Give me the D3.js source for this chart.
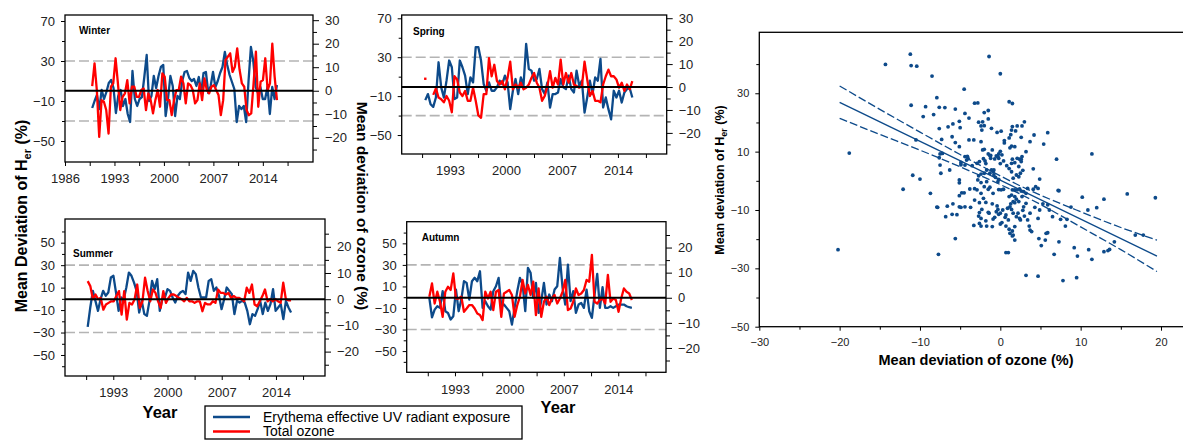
<!DOCTYPE html>
<html>
<head>
<meta charset="utf-8">
<title>Erythemal UV and total ozone deviations</title>
<style>
  body { margin: 0; background: #fff; }
  svg { display: block; font-family: Arial, "Liberation Sans", sans-serif; }
  .tick line { stroke: #000; }
  .tick text { fill: #222; }
</style>
</head>
<body>
<div id="chart"></div>
<script src="https://d3js.org/d3.v7.min.js"></script>
<script>

// seasonal records: first and last year of each monthly series
var winterSpan = [1989.85, 2016.0],
    springSpan = [1989.9, 2015.8],
    summerSpan = [1989.7, 2015.95],
    autumnSpan = [1989.7, 2015.75];

// mean deviation of H_er (%), left axis
var winterUV = [-17,-10,-4,-18,1,-8,-1,8,11,3,
  -22,-5,1,-15,-8,-23,-31,20,-8,-15,
  -8,-6,14,36,-10,-5,15,3,15,24,
  26,-25,-8,15,5,-25,-5,-8,10,19,
  20,13,10,12,5,14,-2,18,19,-2,
  5,19,4,10,18,24,39,26,16,9,
  2,-31,-15,-18,-15,-31,10,44,30,4,
  -2,4,-8,-8,4,-23,4,-8,6];
// mean deviation of total ozone (%), right axis
var winterO3 = [2,11.6,0,-19.6,-4,-4.7,-8.2,-18.2,1.7,3.1,
  13.8,3.1,-8.2,-2.6,-1.1,4.5,-5.4,1.7,1.7,-2.6,
  -2.6,0.3,1,-8.2,-1.1,-4,-9.6,-4,0.3,-6.8,
  7.4,6,-4,-4,-10.4,-4,0.3,0.3,6,3.1,
  -5.4,3.1,2.4,0.3,-5.4,-4,3.1,-4,5.2,0.3,
  -1.1,1.7,2.4,0.3,-1.8,-10.4,-4,13,14.5,15.9,
  8,10.2,18,9,3.1,1.7,-8.2,-10.4,-9.6,3.1,
  16.6,-6.8,3.8,4.5,13.8,0.3,3.1,20,6,-4];

var springUV = [-14.1,-7.9,-18.3,-21.0,-11.4,24.8,-1.0,-11.4,5.9,26.6,
  19.7,-13.1,-11.4,26.6,19.7,11.0,-7.9,9.3,4.1,40.3,
  40.3,26.6,2.4,-4.5,4.1,-4.5,-4.5,-1.0,5.9,2.4,
  11.0,4.1,-23.4,-4.5,7.6,-7.9,9.3,0.7,43.8,17.9,
  16.2,5.9,7.6,17.9,-2.8,-7.9,4.1,-21.7,-7.9,-7.9,
  -6.2,7.6,-1.0,-2.8,11.0,-2.8,-6.2,16.2,0.7,5.9,
  -26.9,-11.4,5.9,-7.9,9.3,5.9,28.3,-21.7,-11.4,-23.4,
  -33.8,-4.5,-11.4,-4.5,-16.6,-6.2,-2.8,-1.7,-11.4];
var springO3 = [3.6,null,null,-3.4,-0.6,-4.6,-5.3,-6.7,-3.9,-6.0,
  -11.0,4.7,3.3,-2.4,-3.9,-1.7,-6.0,-6.0,-0.3,-6.0,
  -12.4,-13.4,-3.1,-3.1,12.6,4.7,9.7,2.6,1.1,2.6,
  -1.0,4.0,11.1,-1.0,1.1,-0.3,1.9,-1.0,-0.3,1.1,
  4.0,6.1,1.9,-0.3,-6.0,-3.9,0.4,6.9,-0.3,4.0,
  1.1,11.9,1.1,6.1,1.9,6.1,1.1,0.4,-0.3,0.4,
  11.1,3.3,-3.9,-1.7,-6.0,-6.0,-6.7,1.1,4.7,7.6,
  4.7,4.7,3.3,-0.3,1.9,-1.7,1.1,-1.0,2.6];

var summerUV = [-24.9,-7.7,7.1,-1.8,-10.7,-0.3,7.1,2.7,5.6,19.0,
  20.5,5.6,-10.7,1.2,-0.3,10.1,23.4,20.5,14.5,7.1,
  -12.2,-1.8,-13.6,-15.1,-1.8,16.0,8.6,17.5,-10.7,-0.3,
  1.2,8.6,7.1,1.2,-3.3,2.7,5.6,7.1,4.2,23.4,
  16.0,24.9,22.0,10.1,1.2,1.2,1.2,16.0,17.5,7.1,
  10.1,2.7,-9.2,-0.3,10.1,7.1,4.2,-13.6,-1.8,-3.3,
  -1.8,-3.3,-10.7,-22.6,-13.6,-15.1,-9.2,-1.8,-13.6,-3.3,
  -10.7,-4.7,8.6,-10.7,-7.7,-4.7,-18.1,-1.8,-7.7,-12.2];
var summerO3 = [6.9,5,0,1.8,0,0.5,-4,-2,-1.4,-0.8,
  -0.8,1.2,3.1,-5.9,3.1,-7.8,-1.4,-2,0,5.6,
  -3.3,-0.8,8.2,3.1,-0.8,3.7,2.4,-0.8,-3.3,3.1,
  -1.4,0.5,1.8,1.8,1.2,0.5,0,-0.8,0.5,-0.8,
  -0.8,-1.4,-0.8,-0.8,-4.6,-1.4,-2,-2,-0.8,-1.4,
  3.7,2.4,2.4,1.8,2.4,0.5,1.2,0.5,0.5,0,
  -0.8,4.4,2.4,5.6,-2,-2.7,-0.8,1.2,3.7,-0.8,
  0,-0.8,0,-0.8,-1.4,6.3,0,-0.4,-0.4];

var autumnUV = [-0.6,-18.6,-11.5,-8.4,-9.9,5.6,-13.0,-14.6,-20.7,-17.6,
  7.1,-13.0,-2.2,14.9,13.3,-2.2,14.9,18.0,14.9,24.1,
  -9.9,-3.7,-8.4,-11.5,5.6,10.2,18.0,-8.4,-6.8,-9.9,
  -13.0,-25.4,-9.9,5.6,18.0,11.8,-13.0,27.2,22.6,-0.6,
  13.3,-14.6,-3.7,13.3,-6.8,2.5,-3.7,7.1,10.2,36.5,
  8.7,-6.8,30.3,-3.7,5.6,-14.6,-6.8,-5.3,-9.9,7.1,
  -13.0,-19.2,2.5,21.7,-9.9,9.3,-9.9,-9.9,-8.4,-9.9,
  -8.4,-6.8,-6.8,-6.8,-8.4,-9.3,-9.9];
var autumnO3 = [0.4,5.7,-2.3,2.4,-1.6,-7.6,2.4,4.4,3.1,9.7,
  -0.3,-0.3,0.4,-5.6,-4.3,-2.9,-2.9,-4.3,-6.3,-6.9,
  -8.9,2.4,-0.3,2.4,-4.9,2.4,3.1,-7.6,1.7,2.4,
  3.1,1.1,-7.6,-2.9,0.4,7.1,1.7,5.1,1.1,6.4,
  -6.9,3.7,-7.6,-1.6,0.4,-2.9,-0.3,1.1,-2.3,-0.3,
  2.4,7.1,-4.9,-4.3,-1.6,3.7,1.1,1.7,3.1,7.1,
  6.4,17.1,-1.6,-2.3,-0.9,-0.3,-2.3,9.1,-1.6,-0.3,
  -0.9,-5.6,-0.3,3.7,2.4,1.7,-0.9];

// scatter: ozone deviation (%) vs H_er deviation (%)
var ozoneDev = [-11.2,-1.4,-14.3,-11.1,-10.4,-8.5,0.0,-4.5,-7.9,-11.1,
  -9.3,-7.6,-6.9,-5.6,-3.2,-2.8,1.1,1.5,-9.6,-8.3,
  -4.4,-2.0,-1.5,-3.9,-5.1,-6.5,-7.6,-5.9,-5.0,-2.7,
  -2.2,-2.4,-2.0,-2.3,-1.5,-1.1,-0.4,0.1,1.3,3.0,
  2.1,2.7,1.4,4.2,5.9,3.7,5.4,2.6,1.4,0.5,
  0.0,-1.2,-0.7,-0.2,-1.0,-1.5,-2.0,-2.4,-3.3,-3.9,
  -5.6,-5.1,-6.0,-7.3,-10.5,-18.8,-10.9,-10.0,-12.1,-8.7,
  -7.9,-6.8,-5.9,-6.0,-5.4,-5.1,-4.8,-4.5,-3.8,-3.2,
  -2.9,-2.4,-5.1,-5.1,-7.4,-7.5,-6.3,-7.6,-7.5,-7.2,
  -4.4,-4.1,-4.0,-4.9,-4.9,-4.4,-4.2,-3.5,-2.9,-2.6,
  -2.2,-2.1,-1.9,-1.8,-1.3,-1.2,-1.1,-1.3,-1.7,-2.0,
  -2.4,-2.7,-2.8,-2.4,-1.7,-0.9,-0.8,-0.5,-0.3,-0.2,
  0.2,0.0,0.4,-0.2,-0.3,-0.6,-0.8,0.1,0.4,-0.2,
  -0.9,-1.3,-1.5,-2.0,-2.1,-1.8,-2.6,-3.2,-2.3,-2.6,
  -2.7,-2.4,-1.8,-1.5,-0.5,-1.0,-0.4,-0.3,0.0,0.3,
  -0.2,-0.7,-0.9,0.0,0.2,0.6,0.9,1.2,1.4,1.6,
  1.3,1.1,1.4,1.8,1.6,1.8,2.0,2.3,1.5,1.8,
  2.1,2.4,2.6,2.9,2.7,3.2,3.4,4.1,4.4,4.7,
  4.9,4.1,2.8,2.5,2.3,2.0,1.6,1.4,1.1,0.8,
  1.4,1.8,1.5,2.1,2.4,2.6,2.3,2.6,1.8,1.2,
  0.5,1.1,1.5,1.9,3.2,2.7,7.0,11.4,7.2,10.2,
  12.0,10.9,12.9,15.8,19.3,16.8,17.8,14.2,13.6,13.4,
  12.9,11.4,11.0,9.2,9.6,9.5,7.8,6.7,7.3,5.1,
  5.6,5.9,5.7,4.8,4.7,4.9,4.3,5.3,5.9,6.1,
  6.5,7.5,8.1,8.3,8.8,7.3,3.7,3.4,3.6,3.7,
  3.9,3.2,2.9,2.8,3.0,2.5,2.4,2.2,2.0,1.8,
  1.6,1.2,1.5,1.8,0.7,1.0,0.7,1.1,1.5,3.2,
  4.7,0.7,1.0,-1.0,-1.4,-1.7,-2.4,-2.6,-3.3,-3.7,
  -4.4,-4.9,-5.1,-6.6,-7.8,-7.7,-5.6,-20.2];
var herDev = [43.4,42.6,39.9,39.5,39.3,35.9,36.7,31.4,28.5,25.9,
  25.4,25.2,25.1,24.6,26.6,26.7,27.1,26.5,22.0,22.7,
  23.1,23.4,24.1,21.5,20.4,18.5,17.9,19.5,18.2,20.1,
  20.2,18.8,18.9,17.4,21.2,18.0,16.6,17.0,15.8,20.2,
  18.8,18.8,17.4,15.7,16.5,13.4,12.6,14.9,11.9,13.0,
  10.1,8.7,7.5,7.7,10.6,9.2,10.8,13.4,14.0,14.0,
  13.1,11.7,15.1,14.2,14.0,9.5,1.9,0.6,-2.9,-4.3,
  -9.0,-12.3,-7.9,-11.5,-11.6,-8.9,-4.1,-4.1,-2.8,-2.7,
  -3.1,-4.3,0.3,-0.7,2.6,5.4,3.7,7.9,9.2,9.4,
  8.3,8.4,7.6,6.3,5.5,5.4,7.1,5.2,6.0,6.6,
  10.6,7.6,6.8,5.9,8.6,7.7,3.7,2.6,3.7,2.6,
  2.3,1.7,0.3,-0.6,-0.3,3.1,3.7,8.5,8.3,9.2,
  8.9,5.9,6.8,0.5,-0.3,1.2,2.0,-3.1,-2.9,-3.0,
  -4.3,-2.2,-2.9,-2.0,-6.0,-7.4,-7.5,-6.6,-9.8,-10.9,
  -12.1,-12.9,-13.7,-10.8,-10.6,-7.9,-8.6,-9.8,-11.1,-10.0,
  -11.5,-12.5,-13.1,-14.8,-14.3,-12.5,-9.4,-8.9,-9.8,-11.1,
  -7.9,-5.4,-4.9,-5.4,-7.1,-7.5,-6.3,-7.1,-3.1,-3.1,
  -3.1,-2.8,-3.5,-3.7,-5.4,-4.3,-2.6,-2.9,-2.0,-2.6,
  0.6,4.1,3.6,2.6,1.4,2.0,0.9,3.1,4.2,5.2,
  6.0,6.2,7.4,7.7,7.4,7.4,4.9,6.6,11.7,11.3,
  13.8,14.7,18.6,17.1,10.0,8.3,7.4,9.2,-3.3,-5.6,
  -9.2,-10.0,-6.3,-4.5,-5.8,-18.6,-18.6,-20.9,-23.5,-23.9,
  -24.3,-26.9,-23.6,-22.9,-25.8,-33.2,-34.2,-25.2,-20.9,-22.2,
  -20.3,-17.8,-18.0,-19.8,-12.9,-10.0,-9.1,-7.9,-8.2,-10.0,
  -12.3,-13.2,-15.5,-13.2,-9.0,-3.4,-11.1,-13.4,-15.5,-16.9,
  -17.4,-7.7,-8.9,-10.1,-12.1,-13.4,-12.9,-11.1,-12.3,-15.7,
  -18.6,-18.0,-18.9,-20.3,-11.7,-13.4,-15.5,-16.6,-17.2,-32.4,
  -32.7,-24.6,-24.6,-15.7,-11.1,-15.5,-15.5,-14.6,-15.3,-9.1,
  -8.9,-9.1,-5.1,-8.7,-9.1,-25.2,-19.8,-23.6];

// regression line and its confidence band
var fitOzone = [-20, 19.5],
    fitHer = [26.9, -25.8];
var bandOzone = [-20, -15, -10, -5, 0, 2, 5, 10, 15, 19.5],
    bandUpper = [32.5, 24.5, 16.7, 9.0, 1.7, -1.1, -4.9, -10.6, -16.0, -20.3],
    bandLower = [21.4, 15.9, 10.5, 4.8, -1.3, -3.9, -8.1, -15.8, -23.6, -31.1];

var seasonNames = ["Winter", "Spring", "Summer", "Autumn"];
var legendLabels = ["Erythema effective UV radiant exposure", "Total ozone"];

var blue = "#0d4a8a", red = "#ff0000";

var svg = d3.select("#chart").append("svg")
    .attr("width", 1183)
    .attr("height", 441);

// panel layout (pixels) and axis settings
var panels = [
  {title: seasonNames[0], box: [65, 15, 313, 162], years: [1986, 2021.1], left: [-71, 76], right: [-30.3, 32.2],
   leftTicks: [70, 30, -10, -50], leftMinor: [50, 10, -30], rightTicks: [30, 20, 10, 0, -10, -20],
   xTicks: [1986, 1993, 2000, 2007, 2014], titleAt: [79, 34], uv: winterUV, o3: winterO3, span: winterSpan},
  {title: seasonNames[1], box: [401.7, 15, 666.7, 154], years: [1986.95, 2020.1], left: [-69.5, 73.4], right: [-29.2, 31.4],
   leftTicks: [70, 30, -10, -50], leftMinor: [50, 10, -30], rightTicks: [30, 20, 10, 0, -10, -20],
   xTicks: [1993, 2000, 2007, 2014], titleAt: [413, 34.5], uv: springUV, o3: springO3, span: springSpan},
  {title: seasonNames[2], box: [65, 219, 325, 376], years: [1986.77, 2020.33], left: [-68.7, 71.1], right: [-29.3, 30.6],
   leftTicks: [50, 30, 10, -10, -30, -50], leftMinor: [60, 40, 20, 0, -20, -40, -60], rightTicks: [20, 10, 0, -10, -20],
   xTicks: [1993, 2000, 2007, 2014], titleAt: [73, 257.3], uv: summerUV, o3: summerO3, span: summerSpan},
  {title: seasonNames[3], box: [406.7, 221.7, 666, 372.3], years: [1986.79, 2020.14], left: [-69.7, 70.1], right: [-29.7, 30.3],
   leftTicks: [50, 30, 10, -10, -30, -50], leftMinor: [60, 40, 20, 0, -20, -40, -60], rightTicks: [20, 10, 0, -10, -20],
   xTicks: [1993, 2000, 2007, 2014], titleAt: [421.7, 240.7], uv: autumnUV, o3: autumnO3, span: autumnSpan}
];
var rightMinor = [25, 15, 5, -5, -15, -25];
var xMinor = [1989.5, 1996.5, 2003.5, 2010.5, 2017.5];

function styleAxis(sel, size) {
  sel.attr("font-size", null).attr("font-family", null);
  sel.select(".domain").remove();
  sel.selectAll(".tick text").style("font-size", size + "px");
  sel.selectAll(".tick line").attr("stroke-width", 1);
}

function seriesPoints(values, span) {
  var t = d3.scaleLinear().domain([0, values.length - 1]).range(span);
  return values.map(function(v, i) { return {t: t(i), v: v}; });
}

panels.forEach(function(p) {
  var x = d3.scaleLinear().domain(p.years).range([p.box[0], p.box[2]]);
  var yL = d3.scaleLinear().domain(p.left).range([p.box[3], p.box[1]]);
  var yR = d3.scaleLinear().domain(p.right).range([p.box[3], p.box[1]]);
  var g = svg.append("g");

  // dashed reference lines at +-30 % of H_er
  g.selectAll(".ref")
    .data([30, -30])
    .enter().append("line")
    .attr("x1", p.box[0]).attr("x2", p.box[2])
    .attr("y1", function(d) { return yL(d); })
    .attr("y2", function(d) { return yL(d); })
    .attr("stroke", "#b4b4b4")
    .attr("stroke-width", 1.6)
    .attr("stroke-dasharray", "10,4");

  var lineL = d3.line()
    .defined(function(d) { return d.v != null; })
    .x(function(d) { return x(d.t); })
    .y(function(d) { return yL(d.v); });
  var lineR = d3.line()
    .defined(function(d) { return d.v != null; })
    .x(function(d) { return x(d.t); })
    .y(function(d) { return yR(d.v); });

  var uvPts = seriesPoints(p.uv, p.span);
  var o3Pts = seriesPoints(p.o3, p.span);

  g.append("path").attr("d", lineL(uvPts))
    .attr("fill", "none").attr("stroke", blue).attr("stroke-width", 2.3)
    .attr("stroke-linejoin", "round");
  g.append("path").attr("d", lineR(o3Pts))
    .attr("fill", "none").attr("stroke", red).attr("stroke-width", 2.3)
    .attr("stroke-linejoin", "round");

  // lone values with no neighbour are shown as dots
  var lone = o3Pts.filter(function(d, i) {
    return d.v != null && (i === 0 || o3Pts[i - 1].v == null) &&
      (i === o3Pts.length - 1 || o3Pts[i + 1].v == null);
  });
  g.selectAll(".lone").data(lone).enter().append("rect")
    .attr("x", function(d) { return x(d.t) - 1.2; })
    .attr("y", function(d) { return yR(d.v) - 1.2; })
    .attr("width", 2.4).attr("height", 2.4)
    .attr("fill", red);

  // zero line
  g.append("line")
    .attr("x1", p.box[0]).attr("x2", p.box[2])
    .attr("y1", yR(0)).attr("y2", yR(0))
    .attr("stroke", "#000").attr("stroke-width", 2);

  // frame
  g.append("rect")
    .attr("x", p.box[0]).attr("y", p.box[1])
    .attr("width", p.box[2] - p.box[0]).attr("height", p.box[3] - p.box[1])
    .attr("fill", "none").attr("stroke", "#000").attr("stroke-width", 1.3);

  // axes
  g.append("g").attr("transform", "translate(" + p.box[0] + ",0)")
    .call(d3.axisLeft(yL).tickValues(p.leftTicks).tickSize(4).tickPadding(6))
    .call(styleAxis, 13);
  g.append("g").attr("transform", "translate(" + p.box[0] + ",0)")
    .call(d3.axisLeft(yL).tickValues(p.leftMinor).tickSize(3).tickFormat(""))
    .call(styleAxis, 13);
  g.append("g").attr("transform", "translate(" + p.box[2] + ",0)")
    .call(d3.axisRight(yR).tickValues(p.rightTicks).tickSize(6).tickPadding(6))
    .call(styleAxis, 13);
  g.append("g").attr("transform", "translate(" + p.box[2] + ",0)")
    .call(d3.axisRight(yR).tickValues(rightMinor).tickSize(4).tickFormat(""))
    .call(styleAxis, 13);
  g.append("g").attr("transform", "translate(0," + p.box[3] + ")")
    .call(d3.axisBottom(x).tickValues(p.xTicks).tickSize(4).tickPadding(8).tickFormat(d3.format("d")))
    .call(styleAxis, 13);
  g.append("g").attr("transform", "translate(0," + p.box[3] + ")")
    .call(d3.axisBottom(x).tickValues(xMinor).tickSize(4).tickFormat(""))
    .call(styleAxis, 13);

  g.append("text")
    .attr("x", p.titleAt[0]).attr("y", p.titleAt[1])
    .style("font-size", "10px").style("font-weight", "bold")
    .text(p.title);
});

// shared axis titles of the seasonal panels
var lt = svg.append("text")
    .attr("transform", "translate(27,216) rotate(-90)")
    .attr("text-anchor", "middle")
    .style("font-size", "16px").style("font-weight", "bold");
lt.append("tspan").text("Mean Deviation of  H");
lt.append("tspan").attr("dy", 4).style("font-size", "11px").text("er");
lt.append("tspan").attr("dy", -4).text(" (%)");

svg.append("text")
    .attr("transform", "translate(357,206) rotate(90)")
    .attr("text-anchor", "middle")
    .style("font-size", "15.5px").style("font-weight", "bold")
    .text("Mean deviation of ozone (%)");

svg.selectAll(".year")
    .data([[160, 418], [558, 413.3]])
    .enter().append("text")
    .attr("x", function(d) { return d[0]; })
    .attr("y", function(d) { return d[1]; })
    .attr("text-anchor", "middle")
    .style("font-size", "16.5px").style("font-weight", "bold")
    .text("Year");

// legend
var lg = svg.append("g");
lg.append("rect")
    .attr("x", 205).attr("y", 406).attr("width", 317).attr("height", 33)
    .attr("fill", "#fff").attr("stroke", "#000").attr("stroke-width", 1.3);
var items = lg.selectAll(".item")
    .data(legendLabels)
    .enter().append("g")
    .attr("transform", function(d, i) { return "translate(0," + (417 + i * 14.5) + ")"; });
items.append("line")
    .attr("x1", 213).attr("x2", 250)
    .attr("stroke", function(d, i) { return i === 0 ? blue : red; })
    .attr("stroke-width", 2.5);
items.append("text")
    .attr("x", 263).attr("y", 4.8)
    .style("font-size", "14px")
    .text(function(d) { return d; });

// scatter of H_er deviation against ozone deviation
var sx = d3.scaleLinear().domain([-30, 22.74]).range([759.3, 1183]);
var sy = d3.scaleLinear().domain([-50, 50.9]).range([326.7, 32.3]);
var sg = svg.append("g");

sg.append("rect")
    .attr("x", 759.3).attr("y", 32.3).attr("width", 440).attr("height", 326.7 - 32.3)
    .attr("fill", "none").attr("stroke", "#000").attr("stroke-width", 1.3);

sg.append("g").attr("transform", "translate(759.3,0)")
    .call(d3.axisLeft(sy).tickValues([30, 10, -10, -30, -50]).tickSize(4).tickPadding(6))
    .call(styleAxis, 11);
sg.append("g").attr("transform", "translate(759.3,0)")
    .call(d3.axisLeft(sy).tickValues([40, 20, 0, -20, -40]).tickSize(3).tickFormat(""))
    .call(styleAxis, 11);
sg.append("g").attr("transform", "translate(0,326.7)")
    .call(d3.axisBottom(sx).tickValues([-30, -20, -10, 0, 10, 20]).tickSize(4).tickPadding(8))
    .call(styleAxis, 11);
sg.append("g").attr("transform", "translate(0,326.7)")
    .call(d3.axisBottom(sx).tickValues([-25, -15, -5, 5, 15]).tickSize(3).tickFormat(""))
    .call(styleAxis, 11);

sg.selectAll(".dot")
    .data(ozoneDev.map(function(o, i) { return [o, herDev[i]]; }))
    .enter().append("circle")
    .attr("cx", function(d) { return sx(d[0]); })
    .attr("cy", function(d) { return sy(d[1]); })
    .attr("r", 1.9)
    .attr("fill", blue);

var fitLine = d3.line()
    .x(function(d) { return sx(d[0]); })
    .y(function(d) { return sy(d[1]); });
var bandLine = d3.line()
    .curve(d3.curveMonotoneX)
    .x(function(d) { return sx(d[0]); })
    .y(function(d) { return sy(d[1]); });

sg.append("path")
    .attr("d", fitLine(fitOzone.map(function(o, i) { return [o, fitHer[i]]; })))
    .attr("fill", "none").attr("stroke", blue).attr("stroke-width", 1.4);
[bandUpper, bandLower].forEach(function(b) {
  sg.append("path")
    .attr("d", bandLine(bandOzone.map(function(o, i) { return [o, b[i]]; })))
    .attr("fill", "none").attr("stroke", blue).attr("stroke-width", 1.3)
    .attr("stroke-dasharray", "8,3");
});

var st = sg.append("text")
    .attr("transform", "translate(724,180) rotate(-90)")
    .attr("text-anchor", "middle")
    .style("font-size", "12.5px").style("font-weight", "bold");
st.append("tspan").text("Mean deviation of H");
st.append("tspan").attr("dy", 3).style("font-size", "9px").text("er");
st.append("tspan").attr("dy", -3).text(" (%)");

sg.append("text")
    .attr("x", 976).attr("y", 365)
    .attr("text-anchor", "middle")
    .style("font-size", "14.5px").style("font-weight", "bold")
    .text("Mean deviation of ozone (%)");

</script>
</body>
</html>
